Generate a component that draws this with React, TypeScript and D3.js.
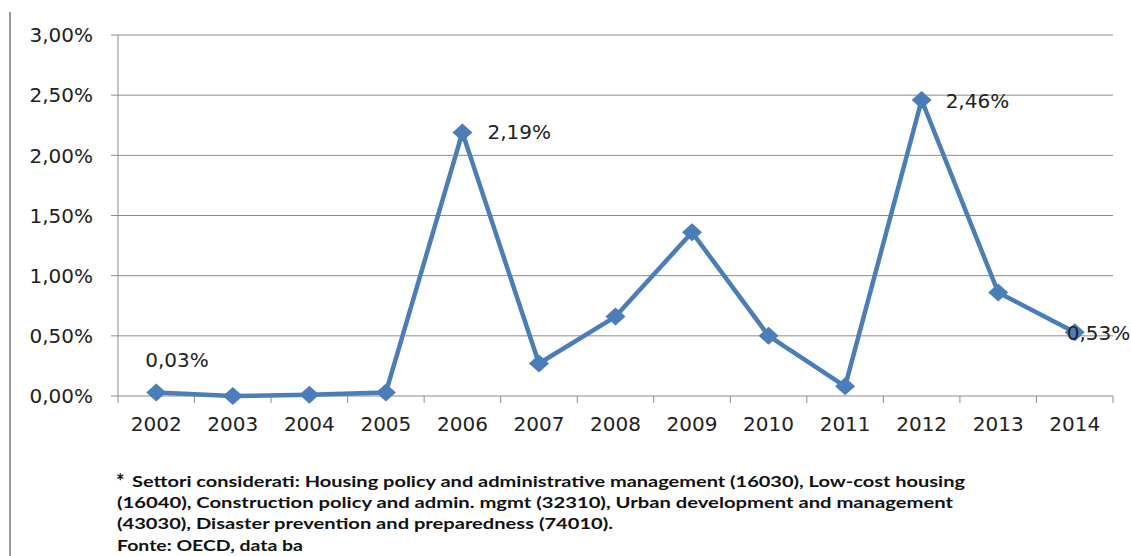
import React from "react";
import * as d3 from "d3";

const years = ["2002","2003","2004","2005","2006","2007","2008","2009","2010","2011","2012","2013","2014"];
const shares = [0.03, 0.0, 0.01, 0.03, 2.19, 0.27, 0.66, 1.36, 0.5, 0.08, 2.46, 0.86, 0.53];
const yTicks = [0, 0.5, 1, 1.5, 2, 2.5, 3];
const labelledYears = ["2002", "2006", "2012", "2014"];
const footnoteLines = [
  "Settori considerati: Housing policy and administrative management (16030), Low-cost housing",
  "(16040), Construction policy and admin. mgmt (32310), Urban development and management",
  "(43030), Disaster prevention and preparedness (74010).",
  "Fonte: OECD, data ba",
];

const fmt = (v: number) => v.toFixed(2).replace(".", ",") + "%";

// layout: data label offsets and footnote line geometry
const labelPlacement: Record<string, [number, number]> = {
  "2002": [-11, -25],
  "2006": [25, 7],
  "2012": [24, 8],
  "2014": [-8, 8],
};
const footLayout: [number, number, number][] = [
  [132, 487, 833],
  [117, 508, 836],
  [117, 529, 496],
  [117, 550.5, 186],
];

export default function App() {
  const W = 1131, H = 556;
  const left = 118, right = 1113, top = 35, bottom = 396;
  const x = d3.scaleBand<string>().domain(years).range([left, right]);
  const y = d3.scaleLinear().domain([0, 3]).range([bottom, top]);
  const cx = (yr: string) => (x(yr) as number) + x.bandwidth() / 2;
  const line = d3.line<number>().x((_, i) => cx(years[i])).y((d) => y(d));
  const axisFont = "'DejaVu Sans', Verdana, sans-serif";
  const footFont = "Lato, 'Open Sans', sans-serif";
  const blue = "#4a7ebb";
  const grid = "#8c8c8c";
  const mw = 10, mh = 9;
  const boundaries = years.map((yr) => x(yr) as number).concat([right]);

  return (
    <svg width={W} height={H} style={{ position: "absolute", left: 0, top: 0, background: "#fff" }}>
      <line x1={10} x2={10} y1={12} y2={H} stroke="#999" strokeWidth={2} />
      {yTicks.map((t) => (
        <g key={t}>
          <line x1={left - 7} x2={right} y1={y(t)} y2={y(t)} stroke={grid} strokeWidth={1} />
          <text x={93} y={y(t)} dy="0.36em" textAnchor="end" fontFamily={axisFont} fontSize={20} fill="#222">
            {fmt(t)}
          </text>
        </g>
      ))}
      <line x1={left} x2={left} y1={top} y2={bottom} stroke={grid} strokeWidth={1} />
      {boundaries.map((b, i) => (
        <line key={i} x1={b} x2={b} y1={bottom} y2={bottom + 7} stroke={grid} strokeWidth={1} />
      ))}
      {years.map((yr) => (
        <text key={yr} x={cx(yr)} y={bottom + 35} textAnchor="middle" fontFamily={axisFont} fontSize={20} fill="#222">
          {yr}
        </text>
      ))}
      <path d={line(shares) || ""} fill="none" stroke={blue} strokeWidth={4.5} strokeLinejoin="round" />
      {shares.map((v, i) => {
        const px = cx(years[i]), py = y(v);
        return (
          <path key={i} d={`M${px},${py - mh}L${px + mw},${py}L${px},${py + mh}L${px - mw},${py}Z`} fill={blue} />
        );
      })}
      {labelledYears.map((yr) => {
        const i = years.indexOf(yr);
        const [dx, dy] = labelPlacement[yr];
        return (
          <text key={yr} x={cx(yr) + dx} y={y(shares[i]) + dy} fontFamily={axisFont} fontSize={20} fill="#222">
            {fmt(shares[i])}
          </text>
        );
      })}
      <text x={116} y={489} fontFamily={footFont} fontWeight="bold" fontSize={20} fill="#111">*</text>
      {footnoteLines.map((l, i) => {
        const [fx, fy, fw] = footLayout[i];
        return (
          <text key={i} x={fx} y={fy} textLength={fw} lengthAdjust="spacingAndGlyphs" fontFamily={footFont} fontWeight="bold" fontSize={15.5} fill="#111">
            {l}
          </text>
        );
      })}
    </svg>
  );
}
